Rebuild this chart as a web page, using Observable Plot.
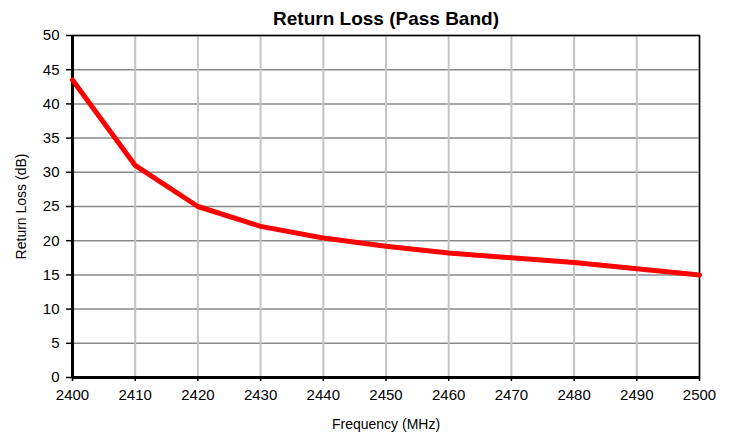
<!DOCTYPE html>
<html><head><meta charset="utf-8">
<script src="https://cdn.jsdelivr.net/npm/d3@7"></script>
<script src="https://cdn.jsdelivr.net/npm/@observablehq/plot@0.6"></script>
<style>body{margin:0;background:#fff;font-family:"Liberation Sans",Arial,sans-serif}</style>
</head><body><div id="chart"></div>
<script>
const title = "Return Loss (Pass Band)";
const xLabel = "Frequency (MHz)";
const yLabel = "Return Loss (dB)";
const frequency = [2400, 2410, 2420, 2430, 2440, 2450, 2460, 2470, 2480, 2490, 2500];
const returnLoss = [43.5, 31.0, 25.0, 22.1, 20.4, 19.2, 18.2, 17.5, 16.8, 15.9, 15.0];
const xTicks = [2400, 2410, 2420, 2430, 2440, 2450, 2460, 2470, 2480, 2490, 2500];
const yTicks = [0, 5, 10, 15, 20, 25, 30, 35, 40, 45, 50];

const data = frequency.map((f, i) => ({f, v: returnLoss[i]}));

const chart = Plot.plot({
  width: 732, height: 436,
  marginLeft: 72, marginRight: 33, marginTop: 35, marginBottom: 59,
  style: {fontFamily: '"Liberation Sans", Arial, sans-serif', fontSize: "15px", color: "#000", background: "#fff"},
  x: {domain: [2400, 2500], ticks: xTicks, tickFormat: d => String(d), label: null},
  y: {domain: [0, 50], ticks: yTicks, label: null},
  marks: [
    Plot.gridY(yTicks, {stroke: "#8a8a8a", strokeOpacity: 1, strokeWidth: 1.5}),
    Plot.gridX(xTicks, {stroke: "#c4c4c4", strokeOpacity: 1, strokeWidth: 2}),
    Plot.frame({stroke: "#000", strokeWidth: 1.5}),
    Plot.axisY({ticks: yTicks, tickSize: 6, tickPadding: 7, tickFormat: d => String(d), fontSize: 15, strokeWidth: 1.5}),
    Plot.axisX({ticks: xTicks, tickSize: 4, tickPadding: 8, tickFormat: d => String(d), fontSize: 15, strokeWidth: 1.5}),
    Plot.ruleX([2400], {stroke: "#000", strokeWidth: 3}),
    Plot.ruleY([0], {stroke: "#000", strokeWidth: 3}),
    Plot.line(data, {x: "f", y: "v", stroke: "#ff0000", strokeWidth: 5, strokeLinejoin: "round"}),
    Plot.text([title], {frameAnchor: "top", dy: -24.5, text: d => d, fontSize: 19, fontWeight: "bold", fill: "#000", textAnchor: "middle"}),
    Plot.text([xLabel], {frameAnchor: "bottom", dy: 51, text: d => d, fontSize: 14, fill: "#000", textAnchor: "middle"}),
    Plot.text([yLabel], {frameAnchor: "left", dx: -51, rotate: -90, text: d => d, fontSize: 14, fill: "#000", textAnchor: "middle", lineAnchor: "middle"})
  ]
});
document.getElementById("chart").appendChild(chart);
</script></body></html>
